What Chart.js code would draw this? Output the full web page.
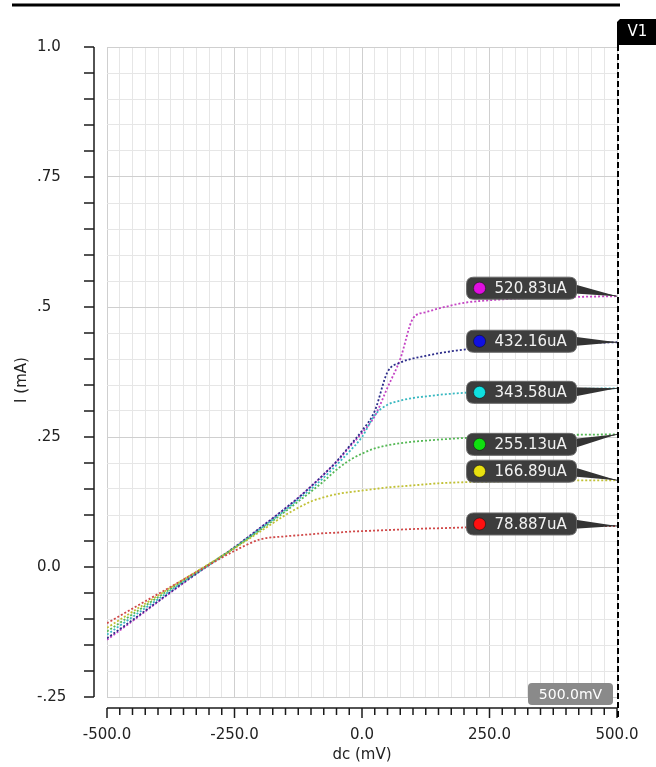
<!DOCTYPE html>
<html><head><meta charset="utf-8">
<script src="https://cdn.jsdelivr.net/npm/chart.js@4/dist/chart.umd.min.js"></script>
<style>html,body{margin:0;padding:0;background:#fff}#wrap{width:656px;height:767px}</style>
</head><body><div id="wrap"><canvas id="c" width="656" height="767"></canvas></div>
<script>
// ---- data (dc sweep in mV, current in mA) ----
const xValues = [-500,-450,-400,-350,-300,-250,-200,-150,-125,-100,-75,-50,-25,0,25,50,75,100,125,150,200,250,300,350,400,450,500];
const redValues     = [-0.108,-0.080,-0.052,-0.024,0.004,0.031,0.053,0.059,0.061,0.063,0.065,0.066,0.068,0.069,0.070,0.071,0.072,0.073,0.074,0.0745,0.076,0.077,0.0775,0.078,0.0783,0.0786,0.0789];
const yellowValues  = [-0.117,-0.086,-0.055,-0.024,0.006,0.036,0.068,0.100,0.114,0.126,0.134,0.140,0.144,0.147,0.150,0.153,0.155,0.157,0.159,0.161,0.163,0.164,0.165,0.1658,0.1663,0.1666,0.1669];
const greenValues   = [-0.124,-0.091,-0.058,-0.026,0.005,0.037,0.071,0.107,0.126,0.145,0.165,0.187,0.205,0.218,0.228,0.234,0.238,0.241,0.243,0.245,0.248,0.250,0.252,0.253,0.254,0.2546,0.2551];
const cyanValues    = [-0.130,-0.096,-0.062,-0.028,0.004,0.037,0.073,0.110,0.130,0.150,0.172,0.196,0.222,0.250,0.292,0.312,0.320,0.325,0.328,0.331,0.335,0.338,0.340,0.341,0.342,0.343,0.3436];
const blueValues    = [-0.137,-0.102,-0.066,-0.030,0.004,0.038,0.075,0.113,0.133,0.155,0.178,0.203,0.232,0.262,0.300,0.375,0.393,0.401,0.406,0.411,0.418,0.423,0.426,0.428,0.430,0.431,0.4322];
const magentaValues = [-0.140,-0.104,-0.067,-0.031,0.004,0.038,0.075,0.113,0.133,0.155,0.178,0.202,0.230,0.258,0.290,0.345,0.400,0.478,0.490,0.497,0.508,0.513,0.516,0.518,0.519,0.520,0.5208];
const endLabels = ["78.887uA","166.89uA","255.13uA","343.58uA","432.16uA","520.83uA"];
const xTickValues = [-500,-250,0,250,500];
const xTickLabels = ["-500.0","-250.0","0.0","250.0","500.0"];
const yTickValues = [-0.25,0,0.25,0.5,0.75,1.0];
const yTickLabels = ["-.25","0.0",".25",".5",".75","1.0"];
const cursorValue = 500;
const cursorLabel = "500.0mV";
const cursorName = "V1";
const xTitle = "dc (mV)";
const yTitle = "I (mA)";

// ---- styles ----
const seriesValues = [redValues, yellowValues, greenValues, cyanValues, blueValues, magentaValues];
const lineColors = ['#d04848','#c0c034','#54b854','#38b8c0','#2c2c8a','#c444c4'];
const dotColors  = ['#ff1010','#e8e010','#10e010','#10e0e0','#1010e0','#e010e0'];
const boxOffsets = [-2,-9,10,4,-1,-8];
const FONT = '"DejaVu Sans", Verdana, sans-serif';

function near(v, step){ return Math.abs(v/step - Math.round(v/step)) < 1e-6; }
function findLabel(vals, labels, v){
  for (let i=0;i<vals.length;i++) if (Math.abs(vals[i]-v) < 1e-6) return labels[i];
  return '';
}
function rr(ctx,x,y,w,h,r){
  ctx.beginPath();
  ctx.moveTo(x+r,y); ctx.lineTo(x+w-r,y); ctx.quadraticCurveTo(x+w,y,x+w,y+r);
  ctx.lineTo(x+w,y+h-r); ctx.quadraticCurveTo(x+w,y+h,x+w-r,y+h);
  ctx.lineTo(x+r,y+h); ctx.quadraticCurveTo(x,y+h,x,y+h-r);
  ctx.lineTo(x,y+r); ctx.quadraticCurveTo(x,y,x+r,y); ctx.closePath();
}

const decor = {
  id: 'decor',
  afterDraw(chart){
    const ctx = chart.ctx, xs = chart.scales.x, ys = chart.scales.y;
    const L = xs.left, R = xs.right, T = ys.top, B = ys.bottom;
    ctx.save();
    const yAxX = L - 13;
    ctx.strokeStyle = '#1a1a1a'; ctx.lineWidth = 1.5;
    ctx.beginPath(); ctx.moveTo(yAxX, T); ctx.lineTo(yAxX, B); ctx.stroke();
    ys.ticks.forEach(t => {
      const p = ys.getPixelForValue(t.value);
      ctx.beginPath(); ctx.moveTo(yAxX-10, p); ctx.lineTo(yAxX, p); ctx.stroke();
    });
    const xAxY = B + 11;
    ctx.beginPath(); ctx.moveTo(L, xAxY); ctx.lineTo(R, xAxY); ctx.stroke();
    xs.ticks.forEach(t => {
      const p = xs.getPixelForValue(t.value);
      const len = near(t.value,250) ? 10 : 7;
      ctx.beginPath(); ctx.moveTo(p, xAxY); ctx.lineTo(p, xAxY+len); ctx.stroke();
    });
    ctx.save();
    ctx.translate(22, (T+B)/2 + 8);
    ctx.rotate(-Math.PI/2);
    ctx.fillStyle = '#222'; ctx.font = '15px ' + FONT;
    ctx.textAlign = 'center'; ctx.textBaseline = 'middle';
    ctx.fillText(yTitle, 0, 0);
    ctx.restore();

    const cx = xs.getPixelForValue(cursorValue);
    const bx = xs.getPixelForValue(205), bw = 110, bh = 22;
    seriesValues.forEach((vals, i) => {
      const v = vals[vals.length-1];
      const vp = ys.getPixelForValue(v);
      const cy = vp + boxOffsets[i];
      ctx.fillStyle = '#333';
      ctx.beginPath();
      ctx.moveTo(bx+bw-6, cy-5); ctx.lineTo(cx, vp); ctx.lineTo(bx+bw-6, cy+5); ctx.closePath(); ctx.fill();
      ctx.strokeStyle = '#333'; ctx.lineWidth = 1;
      ctx.beginPath(); ctx.moveTo(bx+bw-6, cy); ctx.lineTo(cx, vp); ctx.stroke();
      rr(ctx, bx, cy-bh/2, bw, bh, 7);
      ctx.fillStyle = '#3d3d3d'; ctx.fill();
      ctx.strokeStyle = '#6a6a6a'; ctx.lineWidth = 1; ctx.stroke();
      ctx.beginPath(); ctx.arc(bx+13, cy, 6, 0, Math.PI*2);
      ctx.fillStyle = dotColors[i]; ctx.fill();
      ctx.strokeStyle = 'rgba(0,0,0,0.4)'; ctx.stroke();
      ctx.fillStyle = '#f2f2f2'; ctx.font = '15px ' + FONT;
      ctx.textAlign = 'left'; ctx.textBaseline = 'middle';
      ctx.fillText(endLabels[i], bx+28, cy+1);
    });

    ctx.font = '14px ' + FONT;
    const cw = 85, ch = 22;
    rr(ctx, cx-4-cw, B-14, cw, ch, 4);
    ctx.fillStyle = '#8a8a8a'; ctx.fill();
    ctx.fillStyle = '#fff'; ctx.textAlign = 'center'; ctx.textBaseline = 'middle';
    ctx.fillText(cursorLabel, cx-4-cw/2, B-14+ch/2+1);

    ctx.strokeStyle = '#000'; ctx.lineWidth = 2; ctx.setLineDash([6,3]);
    ctx.beginPath(); ctx.moveTo(cx+1, T-2); ctx.lineTo(cx+1, xAxY+10); ctx.stroke();
    ctx.setLineDash([]);

    ctx.lineWidth = 3;
    ctx.beginPath(); ctx.moveTo(12, 5); ctx.lineTo(cx+3, 5); ctx.stroke();
    ctx.fillStyle = '#000';
    ctx.beginPath();
    ctx.moveTo(cx+3, 19); ctx.lineTo(chart.width, 19); ctx.lineTo(chart.width, 45);
    ctx.lineTo(cx, 45); ctx.lineTo(cx, 22); ctx.closePath(); ctx.fill();
    ctx.fillStyle = '#fff'; ctx.font = '15px ' + FONT;
    ctx.textAlign = 'center'; ctx.textBaseline = 'middle';
    ctx.fillText(cursorName, (cx+chart.width)/2 + 1, 32);
    ctx.restore();
  }
};

const datasets = seriesValues.map((vals, i) => ({
  data: xValues.map((x, k) => ({x: x, y: vals[k]})),
  borderColor: lineColors[i],
  borderWidth: 1.8,
  borderDash: [2,2],
  pointRadius: 0,
  fill: false,
  cubicInterpolationMode: 'monotone'
}));

new Chart(document.getElementById('c'), {
  type: 'line',
  data: { datasets: datasets },
  options: {
    responsive: false,
    devicePixelRatio: 1,
    animation: false,
    events: [],
    layout: { padding: { left: 37, right: 39, top: 47, bottom: 0 } },
    plugins: { legend: { display: false }, tooltip: { enabled: false } },
    scales: {
      x: {
        type: 'linear', min: -500, max: 500,
        afterFit: s => { s.height = 70; s.paddingLeft = 0; s.paddingRight = 0; },
        border: { display: false },
        grid: {
          drawTicks: true, tickLength: 29, tickColor: 'rgba(0,0,0,0)',
          color: c => near(c.tick.value, 250) ? '#cfcfcf' : '#e6e6e6',
          lineWidth: 1
        },
        ticks: {
          stepSize: 25, autoSkip: false, maxRotation: 0, padding: 0,
          color: '#222', font: { family: FONT, size: 15 },
          callback: v => findLabel(xTickValues, xTickLabels, v)
        },
        title: { display: true, text: xTitle, color: '#222', font: { family: FONT, size: 15 }, padding: { top: 0, bottom: 3 } }
      },
      y: {
        type: 'linear', min: -0.25, max: 1.0,
        afterFit: s => { s.width = 70; },
        border: { display: false },
        grid: {
          drawTicks: false,
          color: c => near(c.tick.value, 0.25) ? '#cfcfcf' : '#e6e6e6',
          lineWidth: 1
        },
        ticks: {
          stepSize: 0.05, autoSkip: false, crossAlign: 'far', padding: 10,
          color: '#222', font: { family: FONT, size: 15 },
          callback: v => findLabel(yTickValues, yTickLabels, v)
        }
      }
    }
  },
  plugins: [decor]
});
</script>
</body></html>
